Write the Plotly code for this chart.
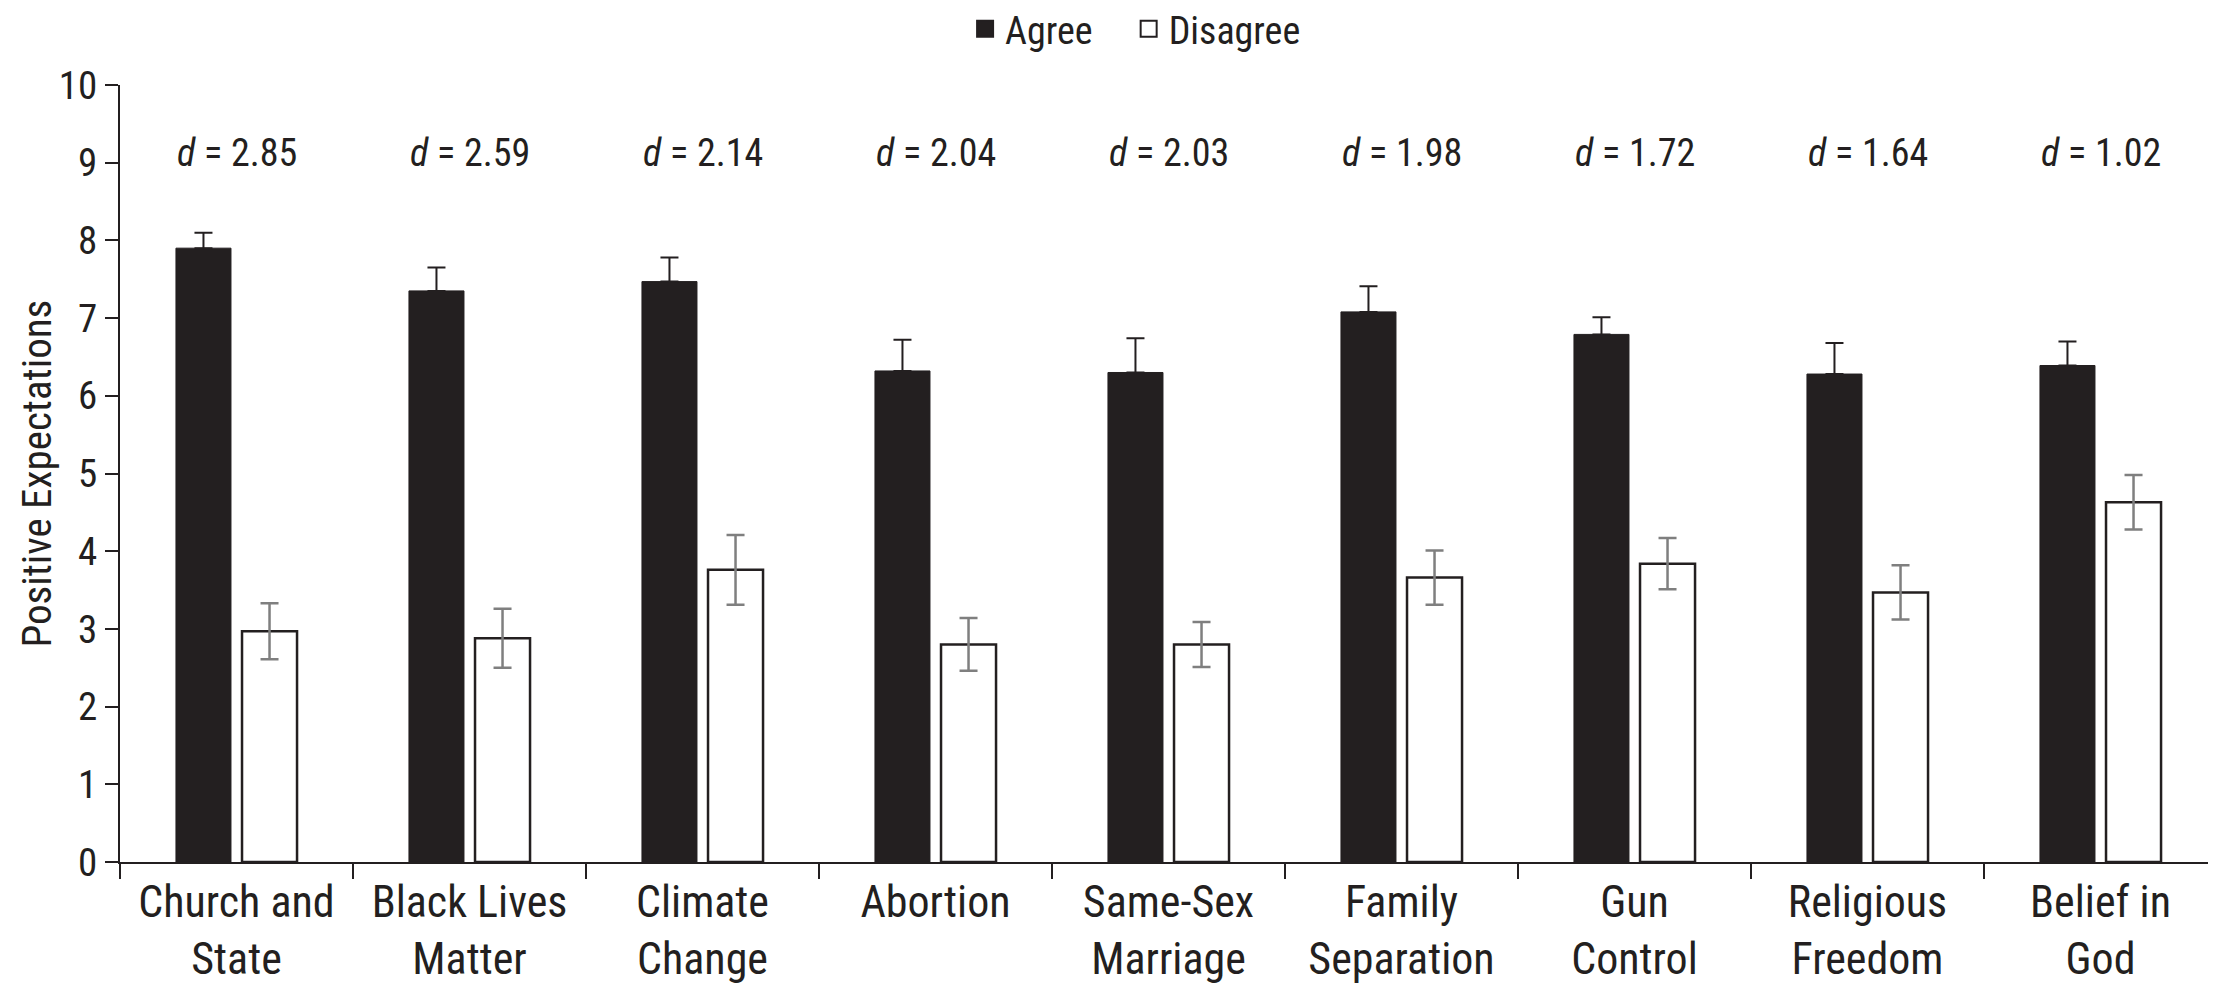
import plotly.graph_objects as go

categories = ["Church and<br>State", "Black Lives<br>Matter", "Climate<br>Change", "Abortion",
              "Same-Sex<br>Marriage", "Family<br>Separation", "Gun<br>Control",
              "Religious<br>Freedom", "Belief in<br>God"]
agree = [7.90, 7.35, 7.47, 6.32, 6.30, 7.08, 6.79, 6.28, 6.39]
agree_err = [0.20, 0.30, 0.31, 0.40, 0.44, 0.33, 0.22, 0.40, 0.31]
disagree = [2.97, 2.88, 3.76, 2.80, 2.80, 3.66, 3.84, 3.47, 4.63]
disagree_err = [0.36, 0.38, 0.45, 0.34, 0.29, 0.35, 0.33, 0.35, 0.35]
d_values = ["2.85", "2.59", "2.14", "2.04", "2.03", "1.98", "1.72", "1.64", "1.02"]

ink = "#231f20"
font = "Liberation Sans Narrow, Arial Narrow, Roboto Condensed, DejaVu Sans Condensed, sans-serif"

fig = go.Figure()
fig.add_trace(go.Bar(
    x=categories, y=agree, name="Agree", showlegend=False,
    marker=dict(color=ink, line=dict(color=ink, width=1)),
    error_y=dict(type="data", array=agree_err, arrayminus=[0] * len(agree_err),
                 symmetric=False, color=ink, thickness=2, width=9),
))
fig.add_trace(go.Bar(
    x=categories, y=disagree, name="Disagree", showlegend=False,
    marker=dict(color="white", line=dict(color=ink, width=2.5)),
    error_y=dict(type="data", array=disagree_err, color="#7f7f7f", thickness=2.5, width=9),
))

# legend entries with bigger square swatches, one legend each so the gap matches
for name, fill, leg in [("Agree", ink, "legend"), ("Disagree", "white", "legend2")]:
    fig.add_trace(go.Scatter(
        x=[None], y=[None], mode="markers", name=name, legend=leg,
        marker=dict(symbol="square", size=16, color=fill, line=dict(color=ink, width=2)),
    ))

for cat, d in zip(categories, d_values):
    fig.add_annotation(x=cat, y=9.12, xref="x", yref="y", showarrow=False,
                       text=f"<i>d</i> = {d}", font=dict(size=38, color=ink, family=font))

fig.add_annotation(x=0, y=5, xref="paper", yref="y", xshift=-84, showarrow=False,
                   textangle=-90, xanchor="center", yanchor="middle",
                   text="Positive Expectations",
                   font=dict(size=41, color=ink, family=font))

legend_style = dict(orientation="h", xanchor="left", y=1.072, yanchor="middle",
                    font=dict(size=38, color=ink), itemwidth=30)

fig.update_layout(
    width=2216, height=994,
    margin=dict(l=112, r=7, t=77, b=140, autoexpand=False),
    paper_bgcolor="white", plot_bgcolor="white",
    barmode="group", bargap=0.433, bargroupgap=0.167,
    font=dict(family=font, color=ink, size=40),
    showlegend=True,
    legend=dict(x=0.403, **legend_style),
    legend2=dict(x=0.481, **legend_style),
)
fig.update_xaxes(showline=True, linecolor=ink, linewidth=2, ticks="outside",
                 tickson="boundaries", ticklen=15, tickwidth=2, tickcolor=ink,
                 tickfont=dict(size=44, color=ink), showgrid=False)
fig.update_yaxes(range=[0, 10], dtick=1, showline=True, linecolor=ink, linewidth=2,
                 ticks="outside", ticklen=13, tickwidth=2, tickcolor=ink,
                 tickfont=dict(size=39, color=ink), showgrid=False, zeroline=False)

fig.write_html("out.html")
